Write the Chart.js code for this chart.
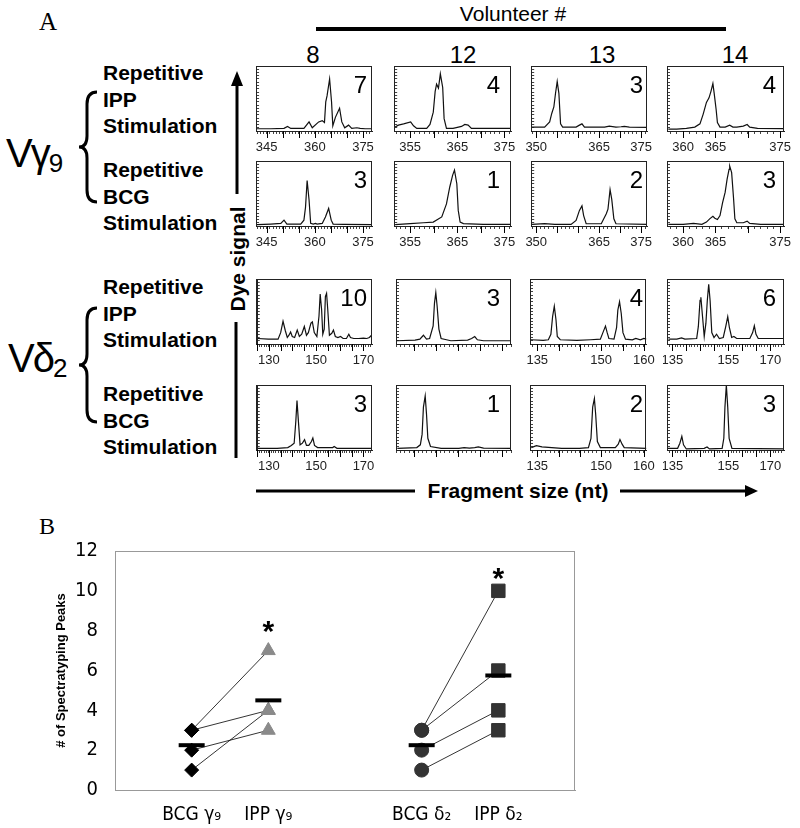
<!DOCTYPE html>
<html>
<head>
<meta charset="utf-8">
<script src="https://cdn.jsdelivr.net/npm/chart.js@4.4.1/dist/chart.umd.min.js"></script>
<style>
  body { margin: 0; background: #fff; }
  #page { position: relative; width: 800px; height: 828px; overflow: hidden; font-family: Arial, 'Liberation Sans', sans-serif; color: #000; }
  .t { position: absolute; line-height: 1; white-space: nowrap; transform: translate(-50%, -50%); }
  .serif { font-family: 'Liberation Serif', 'Times New Roman', serif; }
  .grp { position: absolute; left: 103px; font-weight: bold; font-size: 21px; line-height: 26.5px; white-space: nowrap; }
  .big { position: absolute; font-size: 40px; line-height: 1; transform: translateY(-50%); letter-spacing: -2px; white-space: nowrap; }
  .big sub { font-size: 26px; vertical-align: baseline; position: relative; top: 5px; }
  .count { position: absolute; font-size: 24px; line-height: 24px; text-align: right; }
  canvas { position: absolute; }
  svg { position: absolute; left: 0; top: 0; }
</style>
</head>
<body>
<div id="page">
  <svg width="800" height="828">
    <rect x="316" y="27" width="410" height="4" fill="#000"/>
    <path d="M97 92 Q87 92 87 104 L87 136 Q87 147 79 147 Q87 147 87 158 L87 190 Q87 202 97 202" fill="none" stroke="#000" stroke-width="3"/>
    <path d="M97 308 Q87 308 87 320 L87 354 Q87 365 79 365 Q87 365 87 376 L87 410 Q87 422 97 422" fill="none" stroke="#000" stroke-width="3"/>
    <line x1="237" y1="194" x2="237" y2="82" stroke="#000" stroke-width="3"/>
    <polygon points="231,86 243,86 237,71" fill="#000"/>
    <line x1="236" y1="322" x2="236" y2="458" stroke="#000" stroke-width="3"/>
    <line x1="256" y1="491" x2="415" y2="491" stroke="#000" stroke-width="3"/>
    <line x1="620" y1="491" x2="748" y2="491" stroke="#000" stroke-width="3"/>
    <polygon points="745,485 745,497 758,491" fill="#000"/>
  </svg>

  <div class="t serif" style="left:48px; top:21px; font-size:25px;">A</div>
  <div class="t" style="left:513px; top:13px; font-size:21px;">Volunteer #</div>

  <div class="big" style="left:6px; top:153px;">Vγ<sub>9</sub></div>
  <div class="big" style="left:8px; top:358px;">Vδ<sub>2</sub></div>

  <div class="grp" style="top:60px;">Repetitive<br>IPP<br>Stimulation</div>
  <div class="grp" style="top:157px;">Repetitive<br>BCG<br>Stimulation</div>
  <div class="grp" style="top:274px;">Repetitive<br>IPP<br>Stimulation</div>
  <div class="grp" style="top:381px;">Repetitive<br>BCG<br>Stimulation</div>

  <div class="t" style="left:237px; top:259px; font-size:21px; font-weight:bold; transform: translate(-50%, -50%) rotate(-90deg);">Dye signal</div>
  <div class="t" style="left:518px; top:490px; font-size:21px; font-weight:bold;">Fragment size (nt)</div>

  <div class="t serif" style="left:47px; top:526px; font-size:24px;">B</div>
</div>

<script>
'use strict';

// peak counts per volunteer (also the values of panel B)
var volunteers = ['8', '12', '13', '14'];
var ippG9 = [7, 4, 3, 4];
var bcgG9 = [3, 1, 2, 3];
var ippD2 = [10, 3, 4, 6];
var bcgD2 = [3, 1, 2, 3];

// x windows (nt) and labelled ticks of each column
var g9Range = [[341.7, 377.8], [351.6, 376.4], [348.8, 376.4], [357.5, 375.6]];
var d2Range = [[124.9, 173.6], [136.1, 162.1], [133.3, 160.6], [133.1, 174.9]];
var g9Ticks = [[345, 360, 375], [355, 365, 375], [350, 365, 375], [360, 365, 375]];
var d2Ticks = [[130, 150, 170], [140, 150, 160], [135, 150, 160], [135, 155, 170]];

// spectratype traces [size nt, signal % of full scale]
var ippG9v8 = [[341.7,3.5],[346.3,3.5],[350.4,4],[351.5,7],[352.5,4],[356.6,4],[358.2,14],[359.2,5],[361.2,14],[362.3,16],[363.0,13],[363.4,45],[363.8,54],[364.6,80],[365.2,45],[365.6,8],[366.4,21],[367.7,35],[368.4,14],[369.3,5],[370.5,9],[371.5,4],[373.1,5],[374.1,4],[375.7,3.5],[377.8,3.5]];
var ippG9v12 = [[351.8,6],[352.5,9],[353.6,11],[355.1,14],[355.7,8],[356.4,4],[358.5,4],[359.2,10],[359.9,29],[360.3,61],[360.6,72],[361.0,66],[361.4,88],[361.9,67],[362.2,19],[362.7,4],[364.1,4],[365.9,7],[366.6,10],[367.3,9],[368.0,4],[370.5,4],[376.4,4]];
var ippG9v13 = [[349.0,6],[352.0,6],[353.2,14],[353.7,27],[354.2,37],[354.6,58],[355.0,76],[355.4,58],[355.8,11],[356.3,6],[359.5,6],[360.3,9],[360.9,11],[361.5,6],[366.3,6],[367.4,7.5],[369.0,6],[370.2,6.5],[371.0,7],[372.2,6],[376.4,5.5]];
var ippG9v14 = [[357.7,3],[359.0,3],[360.5,4],[361.8,6],[362.6,11],[363.1,26],[363.6,44],[364.0,51],[364.3,61],[364.6,73],[364.8,58],[365.1,33],[365.3,13],[365.7,6],[366.5,6],[367.2,9],[367.7,6],[368.3,6],[369.3,7.5],[369.9,10],[370.3,6],[371.5,4],[375.6,3.5]];

var bcgG9v8 = [[342.0,2],[346.3,3],[349.4,4],[350.4,9],[351.3,3],[355.6,3],[356.6,9],[357.1,29],[357.6,70],[358.2,40],[358.7,4],[359.5,3],[360.2,4],[360.7,3],[362.3,4],[363.3,14],[364.3,27],[365.1,9],[365.7,3],[369.0,2.5],[377.8,2]];
var bcgG9v12 = [[351.8,2],[355.0,3.6],[357.8,5],[359.9,6],[361.7,14],[362.7,34],[363.4,60],[364.0,78],[364.4,86],[364.9,65],[365.2,24],[365.6,6],[366.3,3.6],[370.5,2.6],[376.4,2.6]];
var bcgG9v13 = [[349.0,2.5],[352.0,3.5],[354.4,2.5],[358.3,2.5],[359.5,8.5],[360.3,24],[360.9,31],[361.3,16],[361.9,3.5],[365.5,3.5],[366.7,19],[367.1,26],[367.6,56],[368.0,41],[368.5,11],[369.0,3.5],[376.4,2.5]];
var bcgG9v14 = [[357.7,2.5],[360.0,2.5],[361.6,4],[362.9,2.5],[363.6,6],[364.1,11],[364.6,15],[364.9,12],[365.3,10],[365.7,16],[366.1,36],[366.5,52],[366.8,72],[367.1,87],[367.2,92],[367.5,82],[367.8,42],[368.0,11],[368.3,5],[369.3,5],[369.9,7.5],[370.3,4],[372.0,2.5],[375.6,2.5]];

var ippD2v8 = [[125.3,8.5],[129.8,7.5],[133.9,7.5],[135.0,17.5],[136.0,35],[137.0,20],[137.8,10],[138.5,13.5],[139.2,18.5],[139.9,11.5],[140.9,10],[142.0,21.5],[142.9,11.5],[143.9,15],[145.0,27],[145.9,13.5],[146.7,17.5],[147.8,32],[148.4,34],[149.2,17.5],[150.3,11.5],[151.2,43],[151.7,77],[152.3,53],[152.8,15],[153.4,23],[153.9,73],[154.4,78],[154.9,53],[155.6,13.5],[156.6,16.5],[157.3,21.5],[158.1,11.5],[159.2,10],[160.3,11.5],[161.4,8.5],[162.8,8.5],[163.8,15],[164.5,10],[165.9,8.5],[167.9,8.5],[170.0,9],[171.4,8.5],[172.5,10],[173.4,13.5]];
var ippD2v12 = [[136.3,5],[140.4,6],[141.5,7.5],[142.3,13.5],[143.0,7.5],[143.7,8.5],[144.5,28],[144.8,63],[145.1,79],[145.4,58],[145.8,23],[146.3,8.5],[148.5,5],[152.3,6],[153.2,8.5],[153.9,11.5],[154.5,6.5],[155.9,5],[162.1,5]];
var ippD2v13 = [[133.5,6.5],[136.4,5.5],[137.6,6.5],[138.2,15],[138.6,42],[139.0,58],[139.4,37],[139.7,11.5],[140.4,6.5],[144.3,5.5],[147.5,6.5],[149.8,7.5],[150.4,17.5],[151.0,27.5],[151.4,17.5],[151.8,8.5],[153.0,7.5],[153.6,25],[153.9,52],[154.3,65],[154.7,47],[155.1,17.5],[155.7,7.5],[157.3,6.5],[158.1,8.5],[159.2,6.5],[160.0,8.5],[160.6,7.5]];
var ippD2v14 = [[133.6,7.5],[136.6,7.5],[138.3,9.5],[139.5,7.5],[143.7,8.5],[144.3,27],[144.9,67],[145.2,72],[145.8,42],[146.4,11.5],[147.0,32],[147.5,67],[148.0,92],[148.5,67],[149.1,17.5],[149.9,10],[150.8,15],[151.8,8.5],[153.2,10],[154.1,27],[154.8,42],[155.4,25],[156.2,10],[157.0,11.5],[158.0,8.5],[162.7,8.5],[163.7,17.5],[164.3,28],[164.9,15],[165.7,8.5],[169.9,8.5],[174.9,8.5]];

var bcgD2v8 = [[125.3,2.6],[133.5,2.6],[138.0,3.7],[139.5,6.8],[140.7,10.5],[141.4,44],[141.9,76],[142.5,44],[143.2,8],[144.2,10.5],[145.1,16],[145.9,7],[146.9,7],[148.0,13],[148.6,18.5],[149.3,7],[150.6,3.7],[157.0,3.7],[157.6,5.3],[158.8,2.6],[173.7,2.6]];
var bcgD2v12 = [[136.4,2.6],[140.8,3.7],[141.6,8],[142.0,24],[142.3,66],[142.7,83],[143.0,55],[143.3,18],[143.9,5.3],[146.3,2.6],[150.3,2.6],[151.5,3.7],[152.7,3],[153.9,3.7],[154.7,4.7],[155.9,3],[162.1,2.6]];
var bcgD2v13 = [[133.6,3.7],[134.8,6.8],[136.1,4.7],[140.7,2.6],[144.9,2.6],[147.0,3.7],[147.6,18],[148.0,66],[148.4,79],[148.7,55],[149.1,13],[149.8,3.7],[153.3,3.7],[154.0,9],[154.4,16],[154.9,9],[155.4,3.7],[160.6,2.6]];
var bcgD2v14 = [[133.4,2.6],[136.9,2.6],[137.7,10.5],[138.4,21],[139.0,8],[140.0,1.6],[146.4,2.6],[147.4,4.7],[148.3,1.6],[152.8,2.6],[153.4,18],[153.8,66],[154.3,100],[154.8,66],[155.3,18],[156.3,2.6],[174.9,1.6]];

// panel B
var categoryLabels = ['BCG γ₉', 'IPP γ₉', 'BCG δ₂', 'IPP δ₂'];
var categoryPos = [1, 2, 4, 5];
var meanPeaks = [2.25, 4.5, 2.25, 5.75];
var starPos = [2, 5];
var starY = [8.25, 10.9];
var peakTicks = [0, 2, 4, 6, 8, 10, 12];

var page = document.getElementById('page');

var rowTraces = [
  [ippG9v8, ippG9v12, ippG9v13, ippG9v14],
  [bcgG9v8, bcgG9v12, bcgG9v13, bcgG9v14],
  [ippD2v8, ippD2v12, ippD2v13, ippD2v14],
  [bcgD2v8, bcgD2v12, bcgD2v13, bcgD2v14]
];
var rowCounts = [ippG9, bcgG9, ippD2, bcgD2];
var rowRanges = [g9Range, g9Range, d2Range, d2Range];
var rowTicks = [g9Ticks, g9Ticks, d2Ticks, d2Ticks];

var colLeft = [255, 394, 530, 667];
var rowTop = [66, 161, 279, 385];
var headerX = [313, 463, 602, 735];
var countInset = [5, 11, 4, 8];
var boxW = 117, boxH = 65;

// box round the plot area
var framePlugin = {
  id: 'frame',
  afterDraw: function (chart, args, opts) {
    var a = chart.chartArea, c = chart.ctx;
    c.save();
    c.strokeStyle = opts.color;
    c.lineWidth = 1;
    c.strokeRect(Math.round(a.left) + 0.5, Math.round(a.top) + 0.5,
      Math.round(a.right - a.left) - 1, Math.round(a.bottom - a.top));
    // longer marks every 5 nt on the spectratype rulers
    if (opts.ruler) {
      var xs = chart.scales.x;
      c.strokeStyle = '#000';
      c.beginPath();
      xs.ticks.forEach(function (t) {
        if (Math.round(t.value) % 5 === 0) {
          var px = Math.round(xs.getPixelForValue(t.value)) + 0.5;
          c.moveTo(px, a.bottom);
          c.lineTo(px, a.bottom + 7);
        }
      });
      c.stroke();
    }
    c.restore();
  }
};

function addText(text, cls, style) {
  var d = document.createElement('div');
  d.className = cls;
  d.textContent = text;
  d.setAttribute('style', style);
  page.appendChild(d);
}

function makePanel(r, c) {
  var range = rowRanges[r][c];
  var labels = rowTicks[r][c];
  var isMajor = function (v) { return labels.indexOf(v) >= 0; };

  var cv = document.createElement('canvas');
  cv.width = boxW + 18;
  cv.height = boxH + 26;
  cv.style.left = (colLeft[c] - 4) + 'px';
  cv.style.top = (rowTop[r] - 2) + 'px';
  page.appendChild(cv);

  new Chart(cv.getContext('2d'), {
    type: 'line',
    data: {
      datasets: [{
        data: rowTraces[r][c].map(function (p) { return {x: p[0], y: p[1]}; }),
        borderColor: '#111',
        borderWidth: 1.2,
        pointRadius: 0,
        tension: 0,
        fill: false
      }]
    },
    options: {
      responsive: false,
      animation: false,
      events: [],
      layout: {padding: {left: 4, top: 2, right: 14, bottom: 0}},
      plugins: {legend: {display: false}, tooltip: {enabled: false}, frame: {color: '#222', ruler: true}},
      scales: {
        x: {
          type: 'linear', min: range[0], max: range[1],
          border: {color: '#222'},
          grid: {drawOnChartArea: false, tickLength: 3, color: '#444'},
          ticks: {
            stepSize: 1, autoSkip: false, includeBounds: false, maxRotation: 0, padding: 6,
            color: '#222', font: {family: 'Arial', size: 13},
            callback: function (v) { return isMajor(v) ? String(v) : ''; }
          },
          afterFit: function (s) { s.height = 24; }
        },
        y: {
          min: 0, max: 100,
          border: {color: '#222'},
          grid: {drawOnChartArea: false, tickLength: -3, color: '#444'},
          ticks: {display: false, stepSize: 5},
          afterFit: function (s) { s.width = 0; }
        }
      }
    },
    plugins: [framePlugin]
  });

  addText(String(rowCounts[r][c]), 'count',
    'left:' + (colLeft[c] + boxW - countInset[c] - 40) + 'px; width:40px; top:' + (rowTop[r] + 7) + 'px;');
}

for (var c = 0; c < 4; c++) {
  addText(volunteers[c], 't', 'left:' + headerX[c] + 'px; top:55px; font-size:24px;');
}
for (var r = 0; r < 4; r++) {
  for (var c2 = 0; c2 < 4; c2++) makePanel(r, c2);
}

// ---- panel B ----
var starPlugin = {
  id: 'stars',
  afterDatasetsDraw: function (chart) {
    var c = chart.ctx, xs = chart.scales.x, ys = chart.scales.y;
    c.save();
    c.font = 'bold 30px Arial';
    c.textAlign = 'center';
    c.textBaseline = 'middle';
    c.fillStyle = '#000';
    for (var i = 0; i < starPos.length; i++) {
      c.fillText('*', xs.getPixelForValue(starPos[i]), ys.getPixelForValue(starY[i]) + 7);
    }
    c.restore();
  }
};

function pts(xv, ys) {
  return ys.map(function (y) { return {x: xv, y: y}; });
}

var bDatasets = [
  {
    label: 'mean',
    data: categoryPos.map(function (x, i) { return {x: x, y: meanPeaks[i]}; }),
    pointStyle: 'line', pointRadius: 13, pointBorderWidth: 4,
    pointBorderColor: '#000', pointBackgroundColor: '#000', order: 0
  },
  {label: 'BCG g9', data: pts(categoryPos[0], bcgG9), pointStyle: 'rectRot', pointRadius: 7,
    pointBackgroundColor: '#000', pointBorderColor: '#000', order: 1},
  {label: 'IPP g9', data: pts(categoryPos[1], ippG9), pointStyle: 'triangle', pointRadius: 8,
    pointBackgroundColor: '#8a8a8a', pointBorderColor: '#8a8a8a', order: 1},
  {label: 'BCG d2', data: pts(categoryPos[2], bcgD2), pointStyle: 'circle', pointRadius: 7,
    pointBackgroundColor: '#333', pointBorderColor: '#333', order: 1},
  {label: 'IPP d2', data: pts(categoryPos[3], ippD2), pointStyle: 'rect', pointRadius: 9.5,
    pointBackgroundColor: '#333', pointBorderColor: '#333', order: 1}
];
for (var v = 0; v < volunteers.length; v++) {
  bDatasets.push({
    data: [{x: categoryPos[0], y: bcgG9[v]}, {x: categoryPos[1], y: ippG9[v]}],
    showLine: true, borderColor: '#000', borderWidth: 0.8, pointRadius: 0, order: 2
  });
  bDatasets.push({
    data: [{x: categoryPos[2], y: bcgD2[v]}, {x: categoryPos[3], y: ippD2[v]}],
    showLine: true, borderColor: '#000', borderWidth: 0.8, pointRadius: 0, order: 2
  });
}

var cvB = document.createElement('canvas');
cvB.width = 600;
cvB.height = 298;
cvB.style.left = '0px';
cvB.style.top = '530px';
page.appendChild(cvB);

var narrow = "'Liberation Sans Narrow', 'Arial Narrow', 'DejaVu Sans Condensed', Arial";

new Chart(cvB.getContext('2d'), {
  type: 'scatter',
  data: {datasets: bDatasets},
  options: {
    responsive: false,
    animation: false,
    events: [],
    layout: {padding: {left: 50, top: 18, right: 25, bottom: 0}},
    plugins: {legend: {display: false}, tooltip: {enabled: false}, frame: {color: '#999', ruler: false}},
    scales: {
      x: {
        type: 'linear', min: 0, max: 6,
        border: {color: '#999'},
        grid: {display: false},
        afterBuildTicks: function (s) { s.ticks = categoryPos.map(function (p) { return {value: p}; }); },
        ticks: {
          autoSkip: false, maxRotation: 0, padding: 6, color: '#000',
          font: {family: narrow, size: 19},
          callback: function (v) { return categoryLabels[categoryPos.indexOf(v)]; }
        },
        afterFit: function (s) { s.height = 38; }
      },
      y: {
        min: 0, max: 12,
        border: {color: '#999'},
        grid: {display: false},
        afterBuildTicks: function (s) { s.ticks = peakTicks.map(function (p) { return {value: p}; }); },
        ticks: {padding: 9, color: '#000', font: {family: narrow, size: 20}},
        title: {display: true, text: '# of Spectratyping Peaks', color: '#000',
          font: {family: 'Arial', size: 13, weight: 'bold'}, padding: {top: 4, bottom: 4}},
        afterFit: function (s) { s.width = 65; }
      }
    }
  },
  plugins: [framePlugin, starPlugin]
});
</script>
</body>
</html>
